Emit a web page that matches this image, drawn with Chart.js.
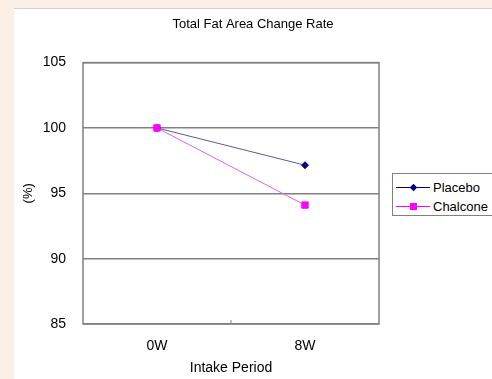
<!DOCTYPE html>
<html>
<head>
<meta charset="utf-8">
<script src="https://cdn.jsdelivr.net/npm/chart.js@4"></script>
<style>
body{margin:0;background:#fcefe5;width:492px;height:379px;overflow:hidden;position:relative;font-family:"Liberation Sans",sans-serif;}
#panel{position:absolute;left:14px;top:8px;width:478px;height:370px;background:#fff;border-top:1px solid #d6d0cc;}
#legend{position:absolute;left:392px;top:173px;width:120px;height:43px;border:1px solid #808080;background:#fff;box-sizing:border-box;padding-top:4px;}
.legend-item{height:19px;line-height:19px;font-size:13px;color:#000;display:flex;align-items:center;}
.sym{position:relative;width:34px;height:19px;margin-left:3px;margin-right:3px;}
.sym .ln{position:absolute;left:0;right:0;top:9px;height:1px;}
.sym .mk{position:absolute;left:14px;top:6px;width:7px;height:7px;}
</style>
</head>
<body>
<div id="panel"><div style="position:relative;width:478px;height:370px"><canvas id="c"></canvas></div></div>
<div id="legend"></div>
<script>
const periods = ["0W","8W"];
const placebo = [100, 97.15];
const chalcone = [100, 94.1];
const seriesNames = ["Placebo","Chalcone"];
const seriesColors = ["#000080","#ff00ff"];
const yTicks = [85,90,95,100,105];

const fontFam = '"Liberation Sans",sans-serif';

const frame = {
  id:"frame",
  afterDraw(chart){
    const {ctx, chartArea:a} = chart;
    const x = chart.scales.x;
    ctx.save();
    ctx.strokeStyle = "#808080";
    ctx.lineWidth = 1.5;
    ctx.strokeRect(a.left, a.top, a.right-a.left, a.bottom-a.top);
    // small tick between the two categories
    const mid = (x.getPixelForValue(0)+x.getPixelForValue(1))/2;
    ctx.beginPath();
    ctx.moveTo(mid, a.bottom);
    ctx.lineTo(mid, a.bottom-4);
    ctx.lineWidth = 1;
    ctx.stroke();
    ctx.restore();
  }
};

new Chart(document.getElementById("c"),{
  type:"line",
  data:{
    labels:periods,
    datasets:[
      {label:seriesNames[0],data:placebo,order:1,borderColor:"#5a5a9a",backgroundColor:seriesColors[0],
       pointStyle:"rectRot",pointRadius:3.5,pointBorderColor:seriesColors[0],pointBackgroundColor:seriesColors[0],borderWidth:1},
      {label:seriesNames[1],data:chalcone,order:0,borderColor:"#e060e0",backgroundColor:seriesColors[1],
       pointStyle:"rect",pointRadius:4.5,pointBorderColor:seriesColors[1],pointBackgroundColor:seriesColors[1],borderWidth:1}
    ]
  },
  options:{
    responsive:true,
    maintainAspectRatio:false,
    animation:false,
    events:[],
    layout:{padding:0},
    plugins:{
      legend:{display:false},
      tooltip:{enabled:false},
      title:{
        display:true,
        text:"Total Fat Area Change Rate",
        color:"#000",
        font:{family:fontFam,size:13,weight:"normal"},
        padding:{top:8,bottom:30},
        align:"center"
      }
    },
    scales:{
      x:{
        offset:true,
        afterFit(s){ s.height = 55; },
        grid:{display:false,drawTicks:false},
        border:{display:false},
        ticks:{color:"#000",font:{family:fontFam,size:14},padding:14},
        title:{display:true,text:"Intake Period",color:"#000",font:{family:fontFam,size:14},padding:{top:2,bottom:2}}
      },
      y:{
        min:85,max:105,
        afterFit(s){ s.width = 69; },
        afterBuildTicks(s){ s.ticks = yTicks.map(v=>({value:v})); },
        grid:{color:"#808080",lineWidth:1.5,drawTicks:false},
        border:{display:false},
        ticks:{color:"#000",font:{family:fontFam,size:14},padding:17},
        title:{display:true,text:"(%)",color:"#000",font:{family:fontFam,size:13},padding:{top:7,bottom:4}}
      },
      y2:{
        position:"right",
        min:85,max:105,
        afterFit(s){ s.width = 113; },
        grid:{display:false,drawTicks:false},
        border:{display:false},
        ticks:{display:false}
      }
    }
  },
  plugins:[frame]
});

/* legend */
const legend = document.getElementById("legend");
seriesNames.forEach((name,i)=>{
  const el = document.createElement("div");
  el.className = "legend-item";
  const mk = i===0
    ? `<i class="mk" style="background:${seriesColors[i]};transform:rotate(45deg) scale(0.75)"></i>`
    : `<i class="mk" style="background:${seriesColors[i]}"></i>`;
  el.innerHTML = `<span class="sym"><i class="ln" style="background:${seriesColors[i]}"></i>${mk}</span>${name}`;
  legend.appendChild(el);
});
</script>
</body>
</html>
